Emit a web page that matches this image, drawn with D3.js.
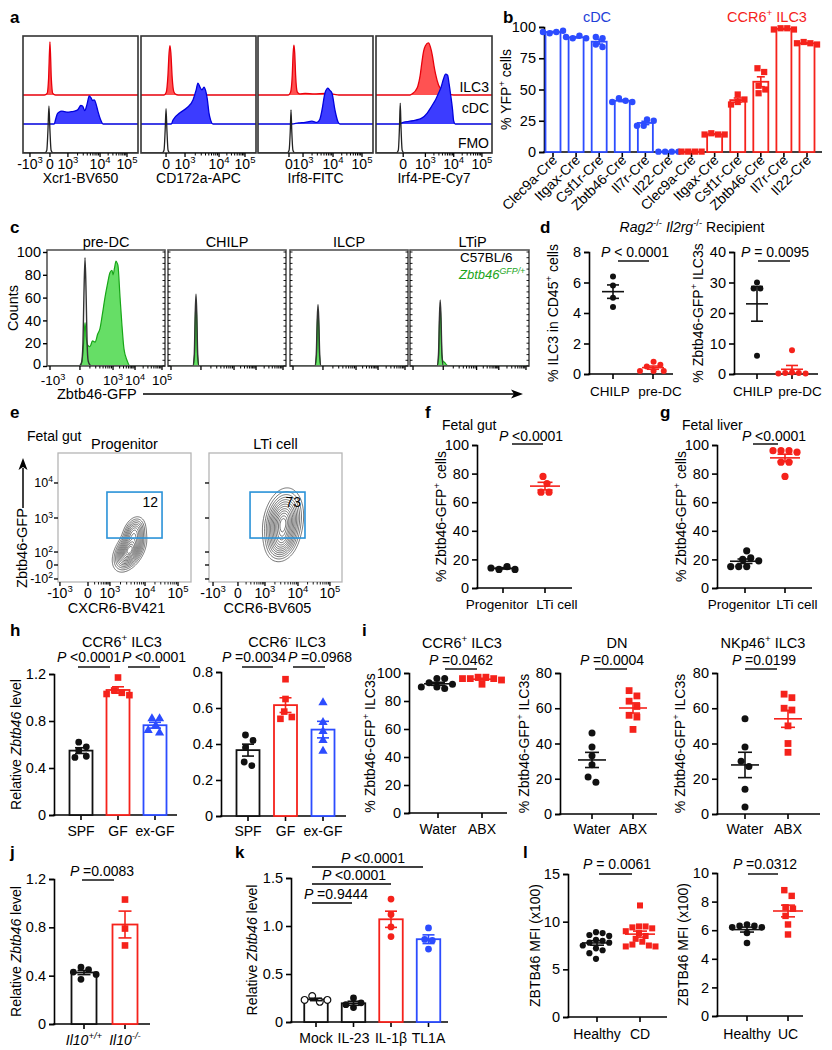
<!DOCTYPE html>
<html><head><meta charset="utf-8">
<script src="https://cdn.jsdelivr.net/npm/d3@7"></script>
<style>body{margin:0;background:#fff}svg{display:block}</style>
</head><body><svg id="c" width="832" height="1050"></svg>
<script>
// ================= DATA =================
// Panel a (flow histograms; x in display channels 0-1024, y in % of max height)
const aAxisTitles = ["Xcr1-BV650","CD172a-APC","Irf8-FITC","Irf4-PE-Cy7"];
const aTickLabels = [["-10^{3}","0","10^{3}","10^{4}","10^{5}"],["0","10^{3}","10^{4}","10^{5}"],["0","10^{3}","10^{4}","10^{5}"],["0","10^{3}","10^{4}","10^{5}"]];
const aTickCh = [[62,240,400,686,926],[223,392,695,926],[276,401,668,926],[240,436,686,935]];
const aRowLabels = ["ILC3","cDC","FMO"];
const aILC3 = [
 [[0,0],[190,0],[215,3],[228,30],[240,95],[252,30],[265,3],[290,0],[1024,0]],
 [[0,0],[205,0],[225,5],[240,35],[250,75],[258,88],[266,75],[278,30],[292,6],[310,1],[330,0],[1024,0]],
 [[0,0],[270,0],[290,5],[305,35],[313,75],[320,89],[327,75],[335,35],[350,5],[370,2],[420,3],[500,2],[600,3],[680,1],[720,0],[1024,0]],
 [[0,0],[300,0],[325,3],[350,8],[370,16],[390,35],[405,58],[420,78],[436,88],[463,93],[480,86],[498,70],[512,52],[525,38],[552,18],[587,8],[632,2],[685,0],[1024,0]]
];
const aCDC = [
 [[0,0],[278,0],[290,8],[305,18],[320,21],[345,23],[370,22],[400,21],[430,22],[460,23],[490,26],[515,33],[530,32],[550,24],[570,35],[590,50],[605,47],[620,42],[635,43],[650,36],[668,22],[690,8],[712,0],[1024,0]],
 [[0,0],[270,0],[285,7],[347,20],[409,29],[463,43],[490,60],[507,73],[525,66],[543,61],[561,66],[575,60],[590,45],[605,20],[620,7],[641,0],[1024,0]],
 [[0,0],[300,0],[360,2],[420,3],[480,5],[525,3],[550,8],[570,25],[596,55],[623,64],[640,60],[659,55],[685,25],[712,4],[730,0],[1024,0]],
 [[0,0],[200,0],[240,3],[300,5],[350,7],[400,10],[454,20],[480,28],[507,37],[530,45],[552,55],[575,66],[595,80],[614,89],[632,87],[645,72],[659,52],[676,25],[685,6],[700,0],[1024,0]]
];
const aFMO = [
 [[0,0],[195,0],[212,5],[222,40],[231,84],[240,40],[250,5],[268,0],[1024,0]],
 [[0,0],[188,0],[205,5],[215,40],[223,79],[231,40],[241,5],[258,0],[1024,0]],
 [[0,0],[260,0],[277,5],[287,38],[294,77],[301,38],[311,5],[328,0],[1024,0]],
 [[0,0],[180,0],[197,5],[207,45],[214,89],[221,45],[231,5],[248,0],[1024,0]]
];

// Panel b (% YFP+ cells)
const bCreLines = ["Clec9a-Cre","Itgax-Cre","Csf1r-Cre","Zbtb46-Cre","Il7r-Cre","Il22-Cre"];
const bCDC = [[95,96,96,97],[91,93,92,91],[92,91,86,84],[43,41,40,40],[26,25,21,21],[0.3,0.3,0.3,0.3]];
const bILC3 = [[0.3,0.3,0.3,0.3],[15,14,14,14],[46,42,40,38],[67,64,53,47,50],[99,99,98,98],[88,87,87,86]];

// Panel c (histograms, counts)
const cTitles = ["pre-DC","CHILP","ILCP","LTiP"];
const cTickLabels = ["-10^{3}","0","10^{3}","10^{4}","10^{5}"];
const cTickCh = [26,286,573,764,998];
const cYTicks = [0,20,40,60,80,100];
const cB6 = [
 [[0,0],[280,0],[300,3],[312,20],[320,60],[330,95],[340,60],[348,20],[358,4],[372,1],[390,0],[1024,0]],
 [[0,0],[215,0],[228,10],[236,45],[243,63],[250,45],[258,10],[270,0],[1024,0]],
 [[0,0],[215,0],[228,10],[236,40],[243,54],[250,40],[258,10],[270,0],[1024,0]],
 [[0,0],[232,0],[245,10],[253,42],[260,58],[267,42],[275,10],[287,0],[1024,0]]
];
const cGFP = [
 [[0,0],[285,0],[305,5],[318,20],[330,38],[340,25],[355,18],[373,17],[395,22],[417,21],[440,28],[460,33],[480,45],[503,60],[525,72],[547,82],[564,84],[573,80],[586,86],[599,92],[610,90],[616,88],[634,60],[651,35],[668,15],[694,5],[720,0],[1024,0]],
 [[0,0],[218,0],[230,8],[237,40],[243,57],[249,40],[256,8],[268,0],[1024,0]],
 [[0,0],[218,0],[230,8],[237,35],[243,48],[249,35],[256,8],[268,0],[1024,0]],
 [[0,0],[235,0],[247,8],[254,38],[260,52],[266,38],[274,10],[285,4],[300,3],[315,1],[330,0],[1024,0]]
];

// Panel d
const dCats = ["CHILP","pre-DC"];
const dILC3_CHILP = [6.4,5.8,5.0,4.4];
const dILC3_preDC = [0.8,0.6,0.5,0.2,0.2,0.2];
const dGFP_CHILP = [30,28,28,6];
const dGFP_preDC = [7.8,0.5,0.3,0.3,0.2,0.2];

// Panel e (contour plots; gaussian population descriptors in channels: cx, cy, sx, sy, rho, weight)
const eTitles = ["Progenitor","LTi cell"];
const eXTitles = ["CXCR6-BV421","CCR6-BV605"];
const eXTickLabels = ["-10^{3}","0","10^{3}","10^{4}","10^{5}"];
const eXTickCh = [[15,231,400,670,924],[31,223,431,685,931]];
const eYTickLabels = ["10^{4}","10^{3}","10^{2}","0","-10^{2}"];
const eYTickCh = [786,508,238,135,24];
const ePops = [
  [[550,250,50,65,0.45,1.0],[585,390,38,55,0.3,0.45]],
  [[570,470,60,105,0.2,1.0],[560,320,50,65,0.2,0.35]]
];
const eGates = [[377,801,349,714],[316,739,349,714]];
const eGatePct = ["12","73"];

// Panels f, g
const fgCats = ["Progenitor","LTi cell"];
const fProg = [13,15,14,13];
const fLTi = [78,73,67,67];
const gProg = [26,21,20,19,15,15,15];
const gLTi = [96,96,96,95,88,88,78];

// Panel h (Relative Zbtb46)
const hCats = ["SPF","GF","ex-GF"];
const hPos_SPF = [0.62,0.58,0.55,0.50,0.49];
const hPos_GF = [1.17,1.06,1.04,1.03,1.02];
const hPos_exGF = [0.82,0.82,0.76,0.72,0.70];
const hNeg_SPF = [0.45,0.42,0.38,0.30,0.28];
const hNeg_GF = [0.76,0.65,0.58,0.55,0.54];
const hNeg_exGF = [0.63,0.52,0.47,0.42,0.36];

// Panel i
const iCats = ["Water","ABX"];
const iCCR6_W = [96,96,93,92,90,89,90];
const iCCR6_A = [97,97,96,96,96,95,92];
const iDN_W = [46,38,33,28,21,18];
const iDN_A = [70,67,64,61,56,55,48];
const iNKp46_W = [54,38,30,27,14,4];
const iNKp46_A = [68,66,60,59,50,40,35];

// Panel j
const jCats = ["Il10^{+/+}","Il10^{-/-}"];
const jWT = [0.47,0.45,0.43,0.41,0.37];
const jKO = [1.03,0.79,0.65];

// Panel k
const kCats = ["Mock","IL-23","IL-1β","TL1A"];
const kMock = [0.27,0.21,0.23,0.23];
const kIL23 = [0.15,0.20,0.25,0.18];
const kIL1b = [1.28,1.12,0.99,0.89];
const kTL1A = [0.98,0.86,0.85,0.76];

// Panel l
const lCats1 = ["Healthy","CD"];
const lCats2 = ["Healthy","UC"];
const lHealthy1 = [8.9,8.8,8.6,8.5,8.1,8.0,7.8,7.8,7.5,7.2,7.0,6.7,6.1];
const lCD = [11.7,9.5,9.5,9.4,9.3,9.0,8.8,8.5,8.2,7.9,7.6,7.5,7.4,7.4];
const lHealthy2 = [6.4,6.3,6.3,6.2,6.2,5.8,5.1];
const lUC = [8.8,8.4,7.6,7.5,7.0,6.4,5.7];

// ================= DRAWING =================
const FONT = "'Liberation Sans', Arial, Helvetica, sans-serif";
const RED = "#f5221b", BLUE = "#2c4cff", BLK = "#111";
const svg = d3.select("#c").attr("font-family", FONT);

function rich(t, s, fs){
  const parts = s.split(/(\^\{[^}]*\}|\*[^*]*\*)/).filter(p => p !== "");
  let up = false;
  for (const p of parts){
    if (p.startsWith("^{")){
      t.append("tspan").attr("font-size", fs*0.68).attr("dy", up ? 0 : -fs*0.4).text(p.slice(2,-1));
      up = true;
    } else {
      const it = p.length > 1 && p.startsWith("*") && p.endsWith("*");
      const ts = t.append("tspan").text(it ? p.slice(1,-1) : p);
      if (it) ts.attr("font-style","italic");
      if (up){ ts.attr("dy", fs*0.4); up = false; }
    }
  }
}
function txt(x, y, s, o={}){
  const fs = o.fs || 14;
  const t = svg.append("text").attr("x",x).attr("y",y).attr("font-size",fs)
    .attr("text-anchor", o.anchor || "start").attr("fill", o.fill || "#000");
  if (o.bold) t.attr("font-weight","bold");
  if (o.italic) t.attr("font-style","italic");
  if (o.rotate) t.attr("transform", `rotate(${o.rotate},${x},${y})`);
  rich(t, s, fs);
  return t;
}
function line(x1,y1,x2,y2,o={}){
  return svg.append("line").attr("x1",x1).attr("y1",y1).attr("x2",x2).attr("y2",y2)
    .attr("stroke", o.c || "#000").attr("stroke-width", o.w || 1.5);
}
function pval(tx, ty, s, lx1, lx2, ly){
  txt(tx, ty, s, {anchor:"middle", fs:14});
  line(lx1, ly, lx2, ly, {w:1.4});
}
function swarm(vals, y, d){
  const placed = [];
  const offs = vals.map(v => {
    const py = y(v);
    for (let k = 0; k < 60; k++){
      const off = k === 0 ? 0 : (k % 2 ? 1 : -1) * Math.ceil(k/2) * d * 0.5;
      if (placed.every(p => Math.hypot(p[0]-off, p[1]-py) >= d*0.97)){ placed.push([off,py]); return off; }
    }
    placed.push([0,py]); return 0;
  });
  const idx = d3.range(vals.length).sort((a,b) => y(vals[a]) - y(vals[b]));
  let cl = [];
  const flush = () => { if (cl.length){ const m = d3.mean(cl, i => offs[i]); cl.forEach(i => offs[i] -= m); } cl = []; };
  idx.forEach((i,k) => {
    if (k > 0 && y(vals[i]) - y(vals[idx[k-1]]) >= d) flush();
    cl.push(i);
  });
  flush();
  return offs;
}
function symType(s){ return s === "square" ? d3.symbolSquare : s === "triangle" ? d3.symbolTriangle : d3.symbolCircle; }
function symSize(s, r){ return s === "square" ? (2*r)*(2*r)*0.95 : s === "triangle" ? r*r*3.2 : Math.PI*r*r; }

function chart(o){
  const y = d3.scaleLinear().domain(o.dom).range(o.yr);
  const n = o.groups.length;
  const x = d3.scalePoint().domain(d3.range(n)).range(o.cr);
  const g = svg.append("g");
  const ax = d3.axisLeft(y).tickValues(o.ticks).tickFormat(o.fmt || (d => String(d))).tickSizeOuter(0).tickSize(5).tickPadding(3);
  const ag = g.append("g").attr("transform", `translate(${o.ax},0)`).call(ax);
  ag.attr("font-family", FONT);
  ag.select(".domain").attr("stroke","#000").attr("stroke-width",1.6);
  ag.selectAll(".tick line").attr("stroke","#000").attr("stroke-width",1.6);
  ag.selectAll(".tick text").attr("font-size", o.tfs || 14.5).attr("fill","#000");
  g.append("line").attr("x1",o.ax-0.8).attr("x2",o.xEnd).attr("y1",o.yr[0]).attr("y2",o.yr[0]).attr("stroke","#000").attr("stroke-width",1.6);
  const r = o.r || 3.5;
  o.groups.forEach((gr,i) => {
    const cx = x(i);
    g.append("line").attr("x1",cx).attr("x2",cx).attr("y1",o.yr[0]).attr("y2",o.yr[0]+5).attr("stroke","#000").attr("stroke-width",1.6);
    const m = d3.mean(gr.vals), s = d3.deviation(gr.vals)/Math.sqrt(gr.vals.length);
    if (o.kind === "bar"){
      g.append("rect").attr("x",cx-o.bw/2).attr("y",y(m)).attr("width",o.bw).attr("height",y(o.dom[0])-y(m))
        .attr("fill","#fff").attr("stroke",gr.color).attr("stroke-width",1.8);
    }
    const offs = swarm(gr.vals, y, 2*r + (o.gap || 0.8));
    gr.vals.forEach((v,j) => {
      g.append("path").attr("d", d3.symbol().type(symType(gr.shape)).size(symSize(gr.shape, r))())
        .attr("transform", `translate(${cx+offs[j]},${y(v)})`)
        .attr("fill", gr.open ? "#fff" : gr.color).attr("stroke", gr.open ? gr.color : "none").attr("stroke-width", 1.2);
    });
    const ec = gr.lineColor || gr.color;
    if (o.kind === "dot"){
      g.append("line").attr("x1",cx-o.meanW/2).attr("x2",cx+o.meanW/2).attr("y1",y(m)).attr("y2",y(m)).attr("stroke",ec).attr("stroke-width",1.6);
    }
    g.append("line").attr("x1",cx).attr("x2",cx).attr("y1",y(Math.max(o.dom[0],m-s))).attr("y2",y(m+s)).attr("stroke",ec).attr("stroke-width",1.6);
    [m-s, m+s].forEach(v => { if (v >= o.dom[0]) g.append("line").attr("x1",cx-o.capW/2).attr("x2",cx+o.capW/2).attr("y1",y(v)).attr("y2",y(v)).attr("stroke",ec).attr("stroke-width",1.6); });
  });
  if (o.labels) o.labels.forEach((l,i) => txt(x(i) + (o.labelDx ? o.labelDx[i] : 0), o.labelY, l, {anchor:"middle", fs:o.lfs || 14, italic:o.catItalic}));
  if (o.ytitle) txt(o.ytx, (o.yr[0]+o.yr[1])/2, o.ytitle, {anchor:"middle", rotate:-90, fs:14});
  return {x, y};
}
function minorTicks(ch){
  const out = [];
  for (let i = 0; i < ch.length-1; i++){
    for (let k = 2; k <= 9; k++) out.push(ch[i] + (ch[i+1]-ch[i]) * Math.log10(k));
  }
  return out;
}

// ---------- Panel labels ----------
[["a",10,23],["b",503,23],["c",10,233],["d",540,233],["e",10,418],["f",425,418],["g",660,418],
 ["h",10,636],["i",362,636],["j",10,858],["k",235,858],["l",523,858]].forEach(([s,x,y]) => txt(x,y,s,{bold:true,fs:17}));

// ---------- Panel a ----------
{
  const boxX = [[23,138],[141,256],[258,373],[376,492]];
  const yTop = 36, yBot = 153;
  const bases = [95,124,153];
  const styles = [["#ff5252","#e8000b"],["#3c3cff","#0000dd"],["none","#222"]];
  const hs = d3.scaleLinear().domain([0,100]).range([0,56]);
  aTickCh.forEach((tc,i) => {
    const [x0,x1] = boxX[i];
    const xs = d3.scaleLinear().domain([0,1024]).range([x0,x1]);
    const id = "clipa"+i;
    svg.append("clipPath").attr("id",id).append("rect").attr("x",x0).attr("y",yTop).attr("width",x1-x0).attr("height",yBot-yTop);
    const g = svg.append("g").attr("clip-path",`url(#${id})`);
    [aILC3[i], aCDC[i], aFMO[i]].forEach((d,k) => {
      const base = bases[k];
      const area = d3.area().x(p => xs(p[0])).y0(base).y1(p => base - hs(p[1])).curve(d3.curveMonotoneX);
      const ln = d3.line().x(p => xs(p[0])).y(p => base - hs(p[1])).curve(d3.curveMonotoneX);
      if (styles[k][0] !== "none") g.append("path").attr("d",area(d)).attr("fill",styles[k][0]);
      g.append("path").attr("d",ln(d)).attr("fill","none").attr("stroke",styles[k][1]).attr("stroke-width",1.3);
    });
    svg.append("rect").attr("x",x0).attr("y",yTop).attr("width",x1-x0).attr("height",yBot-yTop).attr("fill","none").attr("stroke","#333").attr("stroke-width",1.6);
    const decades = aTickLabels[i][0].startsWith("-") ? tc.slice(1) : tc;
    minorTicks(decades.slice(1)).forEach(c => line(xs(c), yBot, xs(c), yBot+2.5, {w:1}));
    tc.forEach((c,j) => {
      line(xs(c), yBot, xs(c), yBot+4, {w:1.3});
      txt(xs(c), 169, aTickLabels[i][j], {anchor:"middle", fs:14});
    });
    txt((x0+x1)/2, 183, aAxisTitles[i], {anchor:"middle", fs:14});
  });
  [[aRowLabels[0],92],[aRowLabels[1],113],[aRowLabels[2],148]].forEach(([s,y]) => txt(489, y, s, {anchor:"end", fs:14}));
}

// ---------- Panel b ----------
{
  const groups = [];
  bCDC.forEach(v => groups.push({vals:v, color:BLUE, shape:"circle"}));
  bILC3.forEach(v => groups.push({vals:v, color:RED, shape:"square"}));
  const labels = bCreLines.concat(bCreLines);
  const ch = chart({ax:544, xEnd:822, yr:[152,27], dom:[0,100], ticks:[0,25,50,75,100], cr:[553,807],
    groups, kind:"bar", bw:15, capW:8, r:3.2, gap:0.3, ytitle:"% YFP^{+} cells", ytx:511});
  labels.forEach((l,i) => txt(ch.x(i)+5, 161, l, {anchor:"end", rotate:-45, fs:14}));
  txt(597, 22, "cDC", {anchor:"middle", fill:"#1f3fd8", fs:14.5});
  txt(767, 22, "CCR6^{+} ILC3", {anchor:"middle", fill:RED, fs:14.5});
}

// ---------- Panel c ----------
{
  const boxX = [[47,165],[168,286],[290,408],[410,529]];
  const yTop = 250, yBot = 366;
  const ys = d3.scaleLinear().domain([0,100]).range([366,252]);
  cTitles.forEach((t,i) => {
    const [x0,x1] = boxX[i];
    const xs = d3.scaleLinear().domain([0,1024]).range([x0,x1]);
    const id = "clipc"+i;
    svg.append("clipPath").attr("id",id).append("rect").attr("x",x0).attr("y",yTop).attr("width",x1-x0).attr("height",yBot-yTop);
    const g = svg.append("g").attr("clip-path",`url(#${id})`);
    const area = d3.area().x(p => xs(p[0])).y0(ys(0)).y1(p => ys(p[1])).curve(d3.curveMonotoneX);
    const ln = d3.line().x(p => xs(p[0])).y(p => ys(p[1])).curve(d3.curveMonotoneX);
    g.append("path").attr("d",area(cGFP[i])).attr("fill","#66de66");
    g.append("path").attr("d",ln(cGFP[i])).attr("fill","none").attr("stroke","#17a617").attr("stroke-width",1.2);
    g.append("path").attr("d",ln(cB6[i])).attr("fill","none").attr("stroke","#333").attr("stroke-width",1.4);
    svg.append("rect").attr("x",x0).attr("y",yTop).attr("width",x1-x0).attr("height",yBot-yTop).attr("fill","none").attr("stroke","#555").attr("stroke-width",1.6);
    d3.range(0,101,5).forEach(v => {
      if (i > 0) line(x0, ys(v), x0+2.5, ys(v), {w:0.9});
      line(x1, ys(v), x1-2.5, ys(v), {w:0.9});
    });
    minorTicks(cTickCh.slice(1)).forEach(c => line(xs(c), yBot, xs(c), yBot+2.5, {w:1}));
    cTickCh.forEach(c => line(xs(c), yBot, xs(c), yBot+4, {w:1.3}));
    txt((x0+x1)/2 + (i===3?3:0), 247, t, {anchor:"middle", fs:14.5});
    if (i === 0){
      cTickCh.forEach((c,j) => txt(xs(c) + (j===0?3:0), 385, cTickLabels[j], {anchor:"middle", fs:13.5}));
      const ag = svg.append("g").attr("transform",`translate(${x0},0)`).call(d3.axisLeft(ys).tickValues(cYTicks).tickSizeOuter(0).tickSize(4).tickPadding(2));
      ag.attr("font-family",FONT);
      ag.select(".domain").remove();
      ag.selectAll(".tick line").attr("stroke","#000").attr("stroke-width",1.4);
      ag.selectAll(".tick text").attr("font-size",14.5).attr("fill","#000").attr("dy", d => d === 0 ? "0.2em" : "0.32em");
    }
  });
  txt(18, 308, "Counts", {anchor:"middle", rotate:-90, fs:14.5});
  txt(57, 399, "Zbtb46-GFP", {fs:14.5});
  line(143, 394, 515, 394, {w:1.4});
  svg.append("path").attr("d","M523,394 L511,389.5 L514,394 L511,398.5 Z").attr("fill","#000");
  txt(460, 262, "C57BL/6", {fs:13.5});
  txt(459, 279, "Zbtb46^{GFP/+}", {fs:13, italic:true, fill:"#1aa51a"});
}

// ---------- Panel d ----------
txt(692, 232, "*Rag2*^{-/-} *Il2rg*^{-/-} Recipient", {anchor:"middle", fs:14});
chart({ax:589, xEnd:673, yr:[374,252], dom:[0,8], ticks:[0,2,4,6,8], cr:[613,653],
  groups:[{vals:dILC3_CHILP,color:BLK,shape:"circle"},{vals:dILC3_preDC,color:RED,shape:"circle"}],
  kind:"dot", meanW:22, capW:12, r:3, labels:dCats, labelDx:[-3,7], lfs:13.5, labelY:396, ytitle:"% ILC3 in CD45^{+} cells", ytx:558});
pval(635, 257, "*P* < 0.0001", 618, 649, 261);
chart({ax:734, xEnd:818, yr:[374,252], dom:[0,40], ticks:[0,10,20,30,40], cr:[757,792],
  groups:[{vals:dGFP_CHILP,color:BLK,shape:"circle"},{vals:dGFP_preDC,color:RED,shape:"circle"}],
  kind:"dot", meanW:22, capW:12, r:3, labels:dCats, labelDx:[-4,8], lfs:13.5, labelY:396, ytitle:"% Zbtb46-GFP^{+} ILC3s", ytx:703});
pval(775, 257, "*P* = 0.0095", 758, 790, 261);

// ---------- Panel e ----------
{
  const boxX = [[58,191],[209,342]];
  const yTop = 453, yBot = 582;
  const ys = d3.scaleLinear().domain([0,1024]).range([yBot,yTop]);
  const N = 128, step = 1024/N;
  txt(27, 441, "Fetal gut", {fs:14});
  eTitles.forEach((t,i) => {
    const [x0,x1] = boxX[i];
    const xs = d3.scaleLinear().domain([0,1024]).range([x0,x1]);
    const vals = new Float64Array(N*N);
    for (let j = 0; j < N; j++) for (let k = 0; k < N; k++){
      const cx = (k+0.5)*step, cy = (j+0.5)*step;
      let s = 0;
      ePops[i].forEach(([mx,my,sx,sy,rho,w]) => {
        const dx = (cx-mx)/sx, dy = (cy-my)/sy;
        s += w*Math.exp(-0.5/(1-rho*rho)*(dx*dx - 2*rho*dx*dy + dy*dy));
      });
      vals[j*N+k] = s;
    }
    const mx = d3.max(vals);
    const levels = [0.03,0.06,0.1,0.15,0.21,0.28,0.36,0.45,0.55,0.65,0.75,0.85,0.93].map(f => f*mx);
    const proj = d3.geoTransform({point: function(px,py){ this.stream.point(xs(px*step), ys(py*step)); }});
    const path = d3.geoPath(proj);
    svg.append("g").selectAll("path").data(d3.contours().size([N,N]).thresholds(levels)(vals)).join("path")
      .attr("d", path).attr("fill","none").attr("stroke","#3a3a3a").attr("stroke-width",0.7);
    svg.append("rect").attr("x",x0).attr("y",yTop).attr("width",x1-x0).attr("height",yBot-yTop).attr("fill","none").attr("stroke","#b5b5b5").attr("stroke-width",1.3);
    const gt = eGates[i];
    svg.append("rect").attr("x",xs(gt[0])).attr("y",ys(gt[3])).attr("width",xs(gt[1])-xs(gt[0])).attr("height",ys(gt[2])-ys(gt[3]))
      .attr("fill","none").attr("stroke","#2a92d8").attr("stroke-width",1.6);
    txt(xs(gt[1])-4, ys(gt[3])+15, eGatePct[i], {anchor:"end", fs:14});
    eXTickCh[i].forEach((c,j) => {
      line(xs(c), yBot, xs(c), yBot+4, {w:1.3});
      txt(xs(c), 598, eXTickLabels[j], {anchor:"middle", fs:14});
    });
    minorTicks(eXTickCh[i].slice(1)).forEach(c => line(xs(c), yBot, xs(c), yBot+2.5, {w:0.9}));
    eYTickCh.forEach((c,j) => {
      line(x0, ys(c), x0-4, ys(c), {w:1.3});
      if (i === 0) txt(x0-5, ys(c)+4.5, eYTickLabels[j], {anchor:"end", fs:12.5});
    });
    txt((x0+x1)/2, 449, t, {anchor:"middle", fs:14.5});
    txt((x0+x1)/2 - 8, 613, eXTitles[i], {anchor:"middle", fs:14.5});
  });
  txt(27, 548, "Zbtb46-GFP", {anchor:"middle", rotate:-90, fs:14.5});
  line(23, 508, 23, 468, {w:1.5});
  svg.append("path").attr("d","M23,458 L18.5,470 L23,467 L27.5,470 Z").attr("fill","#000");
}

// ---------- Panel f, g ----------
txt(442, 430, "Fetal gut", {fs:14});
chart({ax:477, xEnd:572, yr:[588,445], dom:[0,100], ticks:[0,20,40,60,80,100], cr:[503,545],
  groups:[{vals:fProg,color:BLK,shape:"circle"},{vals:fLTi,color:RED,shape:"circle"}],
  kind:"dot", meanW:30, capW:15, r:3.6, labels:fgCats, labelDx:[-6,12], lfs:13.5, labelY:609, ytitle:"% Zbtb46-GFP^{+}  cells", ytx:446});
pval(531, 441, "*P* <0.0001", 512, 543, 444);
txt(682, 430, "Fetal liver", {fs:14});
chart({ax:717, xEnd:812, yr:[588,445], dom:[0,100], ticks:[0,20,40,60,80,100], cr:[745,785],
  groups:[{vals:gProg,color:BLK,shape:"circle"},{vals:gLTi,color:RED,shape:"circle"}],
  kind:"dot", meanW:30, capW:15, r:3.6, labels:fgCats, labelDx:[-6,12], lfs:13.5, labelY:609, ytitle:"% Zbtb46-GFP^{+}  cells", ytx:686});
pval(774, 441, "*P* <0.0001", 753, 778, 444);

// ---------- Panel h ----------
txt(122, 647, "CCR6^{+} ILC3", {anchor:"middle", fs:14.5});
chart({ax:54, xEnd:177, yr:[815,674], dom:[0,1.2], ticks:[0,0.4,0.8,1.2], cr:[81,155],
  groups:[{vals:hPos_SPF,color:BLK,shape:"circle"},{vals:hPos_GF,color:RED,shape:"square"},{vals:hPos_exGF,color:BLUE,shape:"triangle"}],
  kind:"bar", bw:23, capW:12, r:3.4, labels:hCats, labelY:836, ytitle:"Relative *Zbtb46* level", ytx:21});
pval(89, 662, "*P* <0.0001", 78, 110, 667);
pval(154, 662, "*P* <0.0001", 128, 160, 667);
txt(287, 647, "CCR6^{-} ILC3", {anchor:"middle", fs:14.5});
chart({ax:221, xEnd:346, yr:[816,672], dom:[0,0.8], ticks:[0,0.2,0.4,0.6,0.8], cr:[248,323],
  groups:[{vals:hNeg_SPF,color:BLK,shape:"circle"},{vals:hNeg_GF,color:RED,shape:"square"},{vals:hNeg_exGF,color:BLUE,shape:"triangle"}],
  kind:"bar", bw:23, capW:12, r:3.4, labels:hCats, labelY:836});
pval(254, 662, "*P* =0.0034", 242, 273, 667);
pval(320, 662, "*P* =0.0968", 293, 325, 667);

// ---------- Panel i ----------
const iCfg = [
  {title:"CCR6^{+} ILC3", tx:462, ax:409, xEnd:507, dom:[0,100], yr:[813,673], ticks:[0,20,40,60,80,100], cr:[438,482], W:iCCR6_W, A:iCCR6_A, p:"*P* =0.0462", px:461, l:[445,477], ytx:375},
  {title:"DN", tx:617, ax:560, xEnd:657, dom:[0,80], yr:[814,673], ticks:[0,20,40,60,80], cr:[592,633], W:iDN_W, A:iDN_A, p:"*P* =0.0004", px:612, l:[595,627], ytx:529},
  {title:"NKp46^{+} ILC3", tx:763, ax:717, xEnd:820, dom:[0,80], yr:[814,673], ticks:[0,20,40,60,80], cr:[745,788], W:iNKp46_W, A:iNKp46_A, p:"*P* =0.0199", px:764, l:[745,777], ytx:685}
];
iCfg.forEach(c => {
  txt(c.tx, 648, c.title, {anchor:"middle", fs:14.5});
  chart({ax:c.ax, xEnd:c.xEnd, yr:c.yr, dom:c.dom, ticks:c.ticks, cr:c.cr,
    groups:[{vals:c.W,color:BLK,shape:"circle"},{vals:c.A,color:RED,shape:"square"}],
    kind:"dot", meanW:28, capW:14, r:3.5, labels:iCats, labelY:834, ytitle:"% Zbtb46-GFP^{+} ILC3s", ytx:c.ytx});
  pval(c.px, 665, c.p, c.l[0], c.l[1], 669);
});

// ---------- Panel j ----------
chart({ax:54, xEnd:150, yr:[1024,879], dom:[0,1.2], ticks:[0,0.4,0.8,1.2], cr:[84,125],
  groups:[{vals:jWT,color:BLK,shape:"circle"},{vals:jKO,color:RED,shape:"square"}],
  kind:"bar", bw:25, capW:13, r:3.4, labels:jCats, labelY:1045, catItalic:true, ytitle:"Relative *Zbtb46* level", ytx:21});
pval(102, 876, "*P* =0.0083", 82, 114, 880);

// ---------- Panel k ----------
chart({ax:291, xEnd:448, yr:[1022,878], dom:[0,1.5], ticks:[0,0.5,1.0,1.5], fmt:d => d === 0 ? "0" : d3.format(".1f")(d), cr:[316,428.5],
  groups:[{vals:kMock,color:BLK,shape:"circle",open:true},{vals:kIL23,color:BLK,shape:"circle"},{vals:kIL1b,color:RED,shape:"circle"},{vals:kTL1A,color:BLUE,shape:"circle"}],
  kind:"bar", bw:23.5, capW:12, r:3.4, labels:kCats, labelY:1043, ytitle:"Relative *Zbtb46* level", ytx:257});
pval(373, 863, "*P* <0.0001", 312, 423, 867);
pval(354, 880, "*P* <0.0001", 312, 391, 884);
pval(336, 899, "*P* =0.9444", 312, 352, 903);

// ---------- Panel l ----------
chart({ax:568, xEnd:667, yr:[1017,874], dom:[0,15], ticks:[0,5,10,15], cr:[597,640],
  groups:[{vals:lHealthy1,color:BLK,shape:"circle"},{vals:lCD,color:RED,shape:"square"}],
  kind:"dot", meanW:30, capW:14, r:3.1, gap:0.4, labels:lCats1, labelY:1039, ytitle:"ZBTB46 MFI (x100)", ytx:540});
pval(617, 869, "*P* = 0.0061", 599, 632, 874);
chart({ax:717, xEnd:803, yr:[1016,873], dom:[0,10], ticks:[0,2,4,6,8,10], cr:[747,788],
  groups:[{vals:lHealthy2,color:BLK,shape:"circle"},{vals:lUC,color:RED,shape:"square"}],
  kind:"dot", meanW:30, capW:14, r:3.3, labels:lCats2, labelY:1039, ytitle:"ZBTB46 MFI (x100)", ytx:688});
pval(765, 869, "*P* =0.0312", 748, 778, 874);
</script></body></html>
